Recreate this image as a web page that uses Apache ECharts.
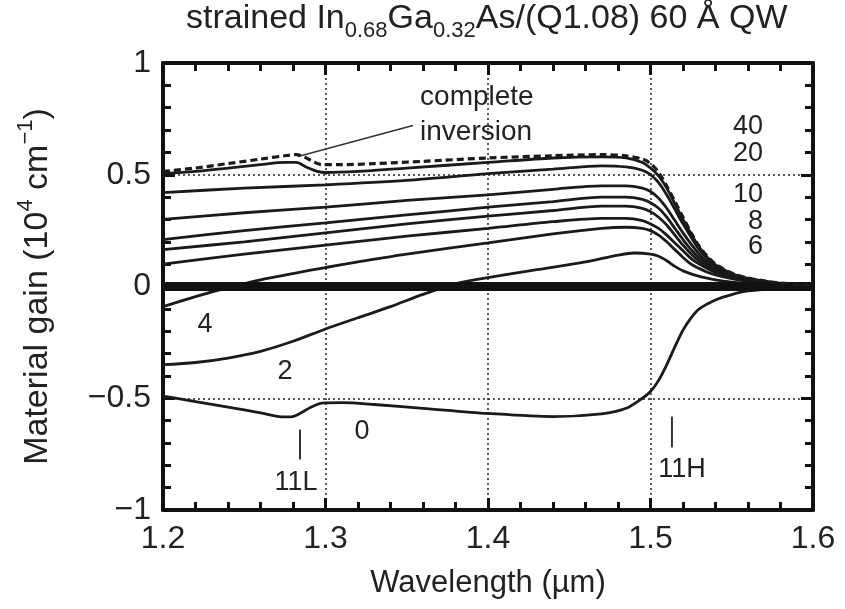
<!DOCTYPE html>
<html><head><meta charset="utf-8">
<script src="https://cdn.jsdelivr.net/npm/echarts@6/dist/echarts.min.js"></script>
<style>html,body{margin:0;padding:0;background:#fff}#c{width:845px;height:609px}</style>
</head><body><div id="c"></div>
<script>
// ---- data (wavelength µm, gain 10^4 cm^-1) ----
const xTicks = [1.2, 1.3, 1.4, 1.5, 1.6];
const yTicks = [-1, -0.5, 0, 0.5, 1];
const inversion = [[1.2,0.515],[1.22,0.53],[1.24,0.55],[1.26,0.57],[1.275,0.585],[1.282,0.59],[1.287,0.58],[1.292,0.56],[1.298,0.545],[1.31,0.545],[1.33,0.55],[1.36,0.56],[1.4,0.575],[1.44,0.585],[1.47,0.59],[1.485,0.585],[1.495,0.57],[1.5,0.55],[1.505,0.51],[1.51,0.45],[1.515,0.38],[1.52,0.31],[1.525,0.24],[1.53,0.18],[1.535,0.135],[1.54,0.1],[1.55,0.06],[1.56,0.038],[1.57,0.025],[1.58,0.015],[1.6,0.006]];
const n40 = [[1.2,0.505],[1.22,0.515],[1.24,0.53],[1.26,0.545],[1.275,0.555],[1.282,0.555],[1.288,0.535],[1.295,0.515],[1.3,0.51],[1.32,0.515],[1.35,0.53],[1.4,0.555],[1.44,0.575],[1.47,0.58],[1.485,0.575],[1.495,0.555],[1.5,0.53],[1.505,0.495],[1.51,0.44],[1.515,0.37],[1.52,0.3],[1.525,0.235],[1.53,0.175],[1.535,0.13],[1.54,0.097],[1.55,0.058],[1.56,0.036],[1.57,0.024],[1.58,0.014],[1.6,0.006]];
const n20 = [[1.2,0.42],[1.25,0.44],[1.3,0.455],[1.35,0.475],[1.4,0.505],[1.44,0.525],[1.47,0.54],[1.485,0.535],[1.495,0.52],[1.5,0.5],[1.505,0.465],[1.51,0.41],[1.515,0.345],[1.52,0.28],[1.525,0.22],[1.53,0.165],[1.535,0.125],[1.54,0.093],[1.55,0.056],[1.56,0.035],[1.57,0.023],[1.58,0.014],[1.6,0.006]];
const n10 = [[1.2,0.3],[1.25,0.33],[1.3,0.355],[1.35,0.385],[1.4,0.41],[1.44,0.435],[1.47,0.45],[1.485,0.45],[1.495,0.44],[1.5,0.425],[1.505,0.395],[1.51,0.35],[1.515,0.295],[1.52,0.24],[1.525,0.19],[1.53,0.145],[1.535,0.11],[1.54,0.085],[1.55,0.052],[1.56,0.033],[1.57,0.022],[1.58,0.013],[1.6,0.005]];
const n8 = [[1.2,0.21],[1.25,0.25],[1.3,0.285],[1.35,0.32],[1.4,0.355],[1.44,0.38],[1.47,0.4],[1.485,0.4],[1.495,0.39],[1.5,0.375],[1.505,0.35],[1.51,0.31],[1.515,0.26],[1.52,0.21],[1.525,0.165],[1.53,0.128],[1.535,0.1],[1.54,0.078],[1.55,0.049],[1.56,0.031],[1.57,0.02],[1.58,0.012],[1.6,0.005]];
const n6 = [[1.2,0.165],[1.25,0.2],[1.3,0.24],[1.35,0.28],[1.4,0.315],[1.44,0.34],[1.47,0.36],[1.485,0.36],[1.495,0.35],[1.5,0.335],[1.505,0.31],[1.51,0.275],[1.515,0.23],[1.52,0.185],[1.525,0.145],[1.53,0.113],[1.535,0.09],[1.54,0.07],[1.55,0.045],[1.56,0.029],[1.57,0.019],[1.58,0.012],[1.6,0.005]];
const n5 = [[1.2,0.1],[1.25,0.145],[1.3,0.185],[1.35,0.225],[1.4,0.26],[1.44,0.29],[1.47,0.305],[1.485,0.305],[1.495,0.295],[1.5,0.28],[1.505,0.26],[1.51,0.23],[1.515,0.195],[1.52,0.16],[1.525,0.125],[1.53,0.1],[1.535,0.08],[1.54,0.063],[1.55,0.041],[1.56,0.027],[1.57,0.018],[1.58,0.011],[1.6,0.004]];
const n4 = [[1.2,-0.09],[1.22,-0.045],[1.24,-0.005],[1.26,0.03],[1.28,0.058],[1.3,0.085],[1.32,0.11],[1.35,0.145],[1.4,0.195],[1.44,0.235],[1.47,0.26],[1.485,0.265],[1.495,0.26],[1.5,0.25],[1.505,0.23],[1.51,0.2],[1.515,0.165],[1.52,0.13],[1.525,0.1],[1.53,0.08],[1.535,0.064],[1.54,0.052],[1.55,0.035],[1.56,0.023],[1.57,0.015],[1.58,0.009],[1.6,0.004]];
const n2 = [[1.2,-0.35],[1.22,-0.34],[1.24,-0.32],[1.26,-0.29],[1.28,-0.245],[1.3,-0.19],[1.32,-0.14],[1.34,-0.09],[1.36,-0.035],[1.38,0.012],[1.4,0.04],[1.43,0.075],[1.46,0.11],[1.48,0.14],[1.49,0.15],[1.5,0.145],[1.505,0.135],[1.51,0.115],[1.515,0.09],[1.52,0.07],[1.53,0.045],[1.54,0.03],[1.55,0.02],[1.56,0.014],[1.58,0.007],[1.6,0.003]];
const n0 = [[1.2,-0.49],[1.22,-0.515],[1.24,-0.54],[1.26,-0.565],[1.273,-0.583],[1.279,-0.583],[1.285,-0.565],[1.291,-0.54],[1.298,-0.522],[1.31,-0.52],[1.33,-0.528],[1.36,-0.545],[1.4,-0.568],[1.44,-0.582],[1.47,-0.57],[1.485,-0.545],[1.495,-0.5],[1.5,-0.47],[1.505,-0.42],[1.51,-0.35],[1.515,-0.27],[1.52,-0.195],[1.525,-0.14],[1.53,-0.1],[1.54,-0.06],[1.55,-0.036],[1.56,-0.02],[1.58,-0.008],[1.6,-0.003]];
const zeroLine = [[1.2,0],[1.6,0]];
// ---- annotations (data coords) ----
const curveLabels = [
  {t:'40', x:1.5692, y:0.716}, {t:'20', x:1.5692, y:0.595},
  {t:'10', x:1.5692, y:0.41}, {t:'8', x:1.5692, y:0.29}, {t:'6', x:1.5692, y:0.18}
];
const innerLabels = [
  {t:'4', x:1.2258, y:-0.17}, {t:'2', x:1.2751, y:-0.38}, {t:'0', x:1.3225, y:-0.65}
];

const FONT = '"Liberation Sans", Arial, sans-serif';
const INK = '#222';
const chart = echarts.init(document.getElementById('c'), null, {renderer:'canvas'});
const lineS = (name, data, extra) => Object.assign({
  name, type:'line', data, showSymbol:false, smooth:0.3, xAxisIndex:0, yAxisIndex:0,
  lineStyle:{color:'#1a1a1a', width:2.8}, z:3, silent:true
}, extra||{});
const axBase = {
  axisLine:{show:true, onZero:false, lineStyle:{color:'#111', width:4}},
  axisTick:{show:true, inside:true, length:12, lineStyle:{color:'#111', width:3}},
  minorTick:{show:true, splitNumber:5, length:8, lineStyle:{color:'#111', width:3}},
};
chart.setOption({
  animation:false,
  title:{
    text:'{n|strained In}{s|0.68}{n|Ga}{s|0.32}{n|As/(Q1.08) 60 Å QW}',
    left:186, top:2, padding:0,
    textStyle:{fontWeight:'normal', rich:{
      n:{fontFamily:FONT, fontSize:34, fontWeight:'normal', color:INK, verticalAlign:'top', lineHeight:40},
      s:{fontFamily:FONT, fontSize:22, fontWeight:'normal', color:INK, verticalAlign:'bottom', lineHeight:24, padding:[24,0,0,0]}
    }}
  },
  grid:{left:163, right:32, top:63, bottom:99, containLabel:false},
  xAxis:[
    Object.assign({}, axBase, {type:'value', min:1.2, max:1.6, interval:0.1, position:'bottom',
      axisLabel:{fontFamily:FONT, fontSize:32, color:INK, margin:13, formatter:v=>v.toFixed(1)},
      splitLine:{show:true, lineStyle:{type:[2,3], color:'#222', width:1.5}},
      name:'Wavelength (µm)', nameLocation:'middle', nameGap:58,
      nameTextStyle:{fontFamily:FONT, fontSize:31, color:INK}}),
    Object.assign({}, axBase, {type:'value', min:1.2, max:1.6, interval:0.1, position:'top',
      axisLabel:{show:false}, splitLine:{show:false}})
  ],
  yAxis:[
    Object.assign({}, axBase, {type:'value', min:-1, max:1, interval:0.5, position:'left',
      axisLabel:{fontFamily:FONT, fontSize:32, color:INK, margin:12,
        formatter:v=> (v===0?'0':String(v).replace('-','−'))},
      splitLine:{show:true, lineStyle:{type:[2,3], color:'#222', width:1.5}},
      name:'{n|Material gain (10}{p|4}{n| cm}{p|−1}{n|)}', nameLocation:'middle', nameGap:108, nameRotate:90,
      nameTextStyle:{rich:{
        n:{fontFamily:FONT, fontSize:34, color:INK, lineHeight:40, verticalAlign:'bottom'},
        p:{fontFamily:FONT, fontSize:22, color:INK, lineHeight:24, verticalAlign:'top'}
      }}}),
    Object.assign({}, axBase, {type:'value', min:-1, max:1, interval:0.5, position:'right',
      axisLabel:{show:false}, splitLine:{show:false}})
  ],
  series:[
    lineS('zero', zeroLine, {smooth:false, lineStyle:{color:'#111', width:9}, z:4}),
    lineS('0', n0), lineS('2', n2), lineS('4', n4), lineS('5', n5), lineS('6', n6),
    lineS('8', n8), lineS('10', n10), lineS('20', n20), lineS('40', n40),
    lineS('inversion', inversion, {lineStyle:{color:'#1a1a1a', width:3.2, type:[7,4]}, z:5})
  ]
});
// annotations placed via data->pixel conversion
const px = (x,y)=>chart.convertToPixel({xAxisIndex:0,yAxisIndex:0},[x,y]);
const g = [];
curveLabels.forEach(l=>{
  const p = px(l.x,l.y);
  g.push({type:'text', x:p[0], y:p[1], style:{text:l.t, font:'27px '+FONT, fill:INK, textAlign:'right', textVerticalAlign:'middle'}, z:10});
});
innerLabels.forEach(l=>{
  const p = px(l.x,l.y);
  g.push({type:'text', x:p[0], y:p[1], style:{text:l.t, font:'27px '+FONT, fill:INK, textAlign:'center', textVerticalAlign:'middle'}, z:10});
});
const c1 = px(1.3582,0.845), c2 = px(1.3582,0.69);
g.push({type:'text', x:c1[0], y:c1[1], style:{text:'complete', font:'28px '+FONT, fill:INK, textVerticalAlign:'middle'}});
g.push({type:'text', x:c2[0], y:c2[1], style:{text:'inversion', font:'28px '+FONT, fill:INK, textVerticalAlign:'middle'}});
const a1 = px(1.2831,0.582), a2 = px(1.3538,0.72);
g.push({type:'line', shape:{x1:a1[0],y1:a1[1],x2:a2[0],y2:a2[1]}, style:{stroke:'#333', lineWidth:1.5}});
const l1 = px(1.2843,-0.64), l2 = px(1.2843,-0.774), lt = px(1.2818,-0.877);
g.push({type:'line', shape:{x1:l1[0],y1:l1[1],x2:l2[0],y2:l2[1]}, style:{stroke:'#333', lineWidth:2}});
g.push({type:'text', x:lt[0], y:lt[1], style:{text:'11L', font:'27px '+FONT, fill:INK, textAlign:'center', textVerticalAlign:'middle'}});
const h1 = px(1.5132,-0.582), h2 = px(1.5132,-0.72), ht = px(1.5194,-0.819);
g.push({type:'line', shape:{x1:h1[0],y1:h1[1],x2:h2[0],y2:h2[1]}, style:{stroke:'#333', lineWidth:2}});
g.push({type:'text', x:ht[0], y:ht[1], style:{text:'11H', font:'27px '+FONT, fill:INK, textAlign:'center', textVerticalAlign:'middle'}});
chart.setOption({graphic:g});
</script></body></html>
